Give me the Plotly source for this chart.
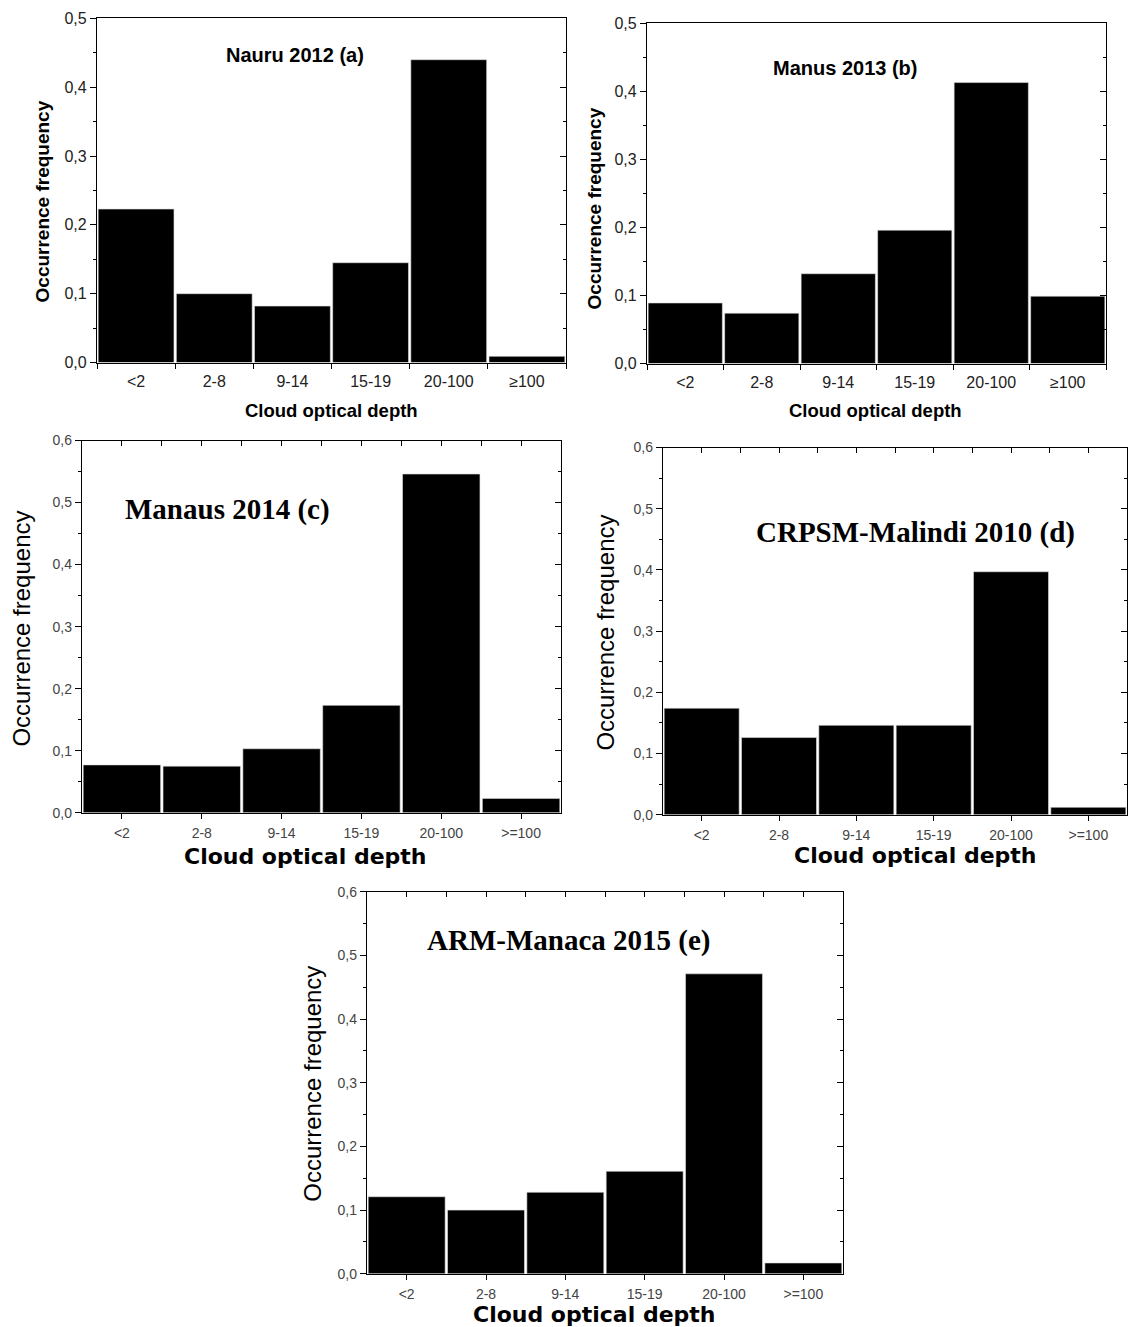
import plotly.graph_objects as go

# ---------------- data ----------------
categories_ab = ["<2", "2-8", "9-14", "15-19", "20-100", "≥100"]
categories_cde = ["<2", "2-8", "9-14", "15-19", "20-100", ">=100"]

nauru_2012 = [0.223, 0.100, 0.082, 0.145, 0.440, 0.009]
manus_2013 = [0.089, 0.074, 0.132, 0.196, 0.413, 0.099]
manaus_2014 = [0.077, 0.075, 0.103, 0.173, 0.546, 0.023]
malindi_2010 = [0.174, 0.126, 0.146, 0.146, 0.397, 0.012]
manaca_2015 = [0.121, 0.100, 0.128, 0.161, 0.471, 0.017]

titles = ["Nauru 2012 (a)", "Manus 2013 (b)", "Manaus 2014 (c)",
          "CRPSM-Malindi 2010 (d)", "ARM-Manaca 2015 (e)"]
y_title = "Occurrence frequency"
x_title = "Cloud optical depth"
y_max = [0.5, 0.5, 0.6, 0.6, 0.6]

# ---------------- layout geometry (pixels of the target picture) ----------------
W = 1128
H = 1340
Y_OFF, Y_SCALE = 7.6, 0.987   # observed vertical mapping of the captured page

panels = [
    dict(cats=categories_ab, vals=nauru_2012, box=(97, 566, 18, 362), style="a",
         title_xy=(295, 55), ytitle_xy=(42, 201), xtitle_xy=(331, 410)),
    dict(cats=categories_ab, vals=manus_2013, box=(647, 1106, 23, 363), style="a",
         title_xy=(845, 68), ytitle_xy=(594, 208), xtitle_xy=(875, 410)),
    dict(cats=categories_cde, vals=manaus_2014, box=(82, 561, 440, 812), style="c",
         title_xy=(227, 509), ytitle_xy=(22, 628), xtitle_xy=(305, 856)),
    dict(cats=categories_cde, vals=malindi_2010, box=(663, 1127, 447, 814), style="c",
         title_xy=(915, 532), ytitle_xy=(606, 632), xtitle_xy=(915, 855)),
    dict(cats=categories_cde, vals=manaca_2015, box=(367, 843, 891, 1273), style="c",
         title_xy=(568, 940), ytitle_xy=(313, 1083), xtitle_xy=(594, 1314)),
]

SANS = "Liberation Sans, Arial, sans-serif"
NARROW = "Liberation Sans Narrow, Arial Narrow, Liberation Sans, sans-serif"
WIDE = "DejaVu Sans, Verdana, sans-serif"
SERIF = "Liberation Serif, Times New Roman, serif"


def px_x(x):
    return x / W


def px_y(y):
    return 1 - ((y - Y_OFF) / Y_SCALE) / H


fig = go.Figure()
layout = {}
annotations = []

for i, p in enumerate(panels):
    n = i + 1
    ntop = n + 5
    x0, x1, y0, y1 = p["box"]
    xd = [px_x(x0), px_x(x1)]
    yd = [px_y(y1), px_y(y0)]
    ym = y_max[i]
    st = p["style"]

    if st == "a":
        tick_font = dict(family=SANS, size=16, color="#222")
    else:
        tick_font = dict(family=NARROW, size=14, color="#444")

    fig.add_trace(go.Bar(
        x=p["cats"], y=p["vals"], xaxis=f"x{n}", yaxis=f"y{n}",
        marker=dict(color="black", line=dict(color="#dddddd", width=0.6)),
        showlegend=False, hoverinfo="x+y",
    ))
    # dummy traces so overlay axes are drawn
    fig.add_trace(go.Scatter(x=[None], y=[None], xaxis=f"x{ntop}", yaxis=f"y{n}",
                             showlegend=False, hoverinfo="skip"))
    fig.add_trace(go.Scatter(x=[None], y=[None], xaxis=f"x{n}", yaxis=f"y{ntop}",
                             showlegend=False, hoverinfo="skip"))

    layout[f"xaxis{n}"] = dict(
        domain=xd, anchor=f"y{n}", type="category", categoryorder="array",
        categoryarray=p["cats"], range=[-0.5, 5.5],
        showline=True, linecolor="black", linewidth=1.3,
        ticks="outside", ticklen=5, tickwidth=1.2, tickcolor="black",
        tickson="boundaries" if st == "a" else "labels",
        ticklabelstandoff=4 if st == "a" else 2,
        tickfont=tick_font, showgrid=False, zeroline=False, fixedrange=True,
    )
    layout[f"yaxis{n}"] = dict(
        domain=yd, anchor=f"x{n}", range=[0, ym], dtick=0.1, tick0=0,
        tickformat=".1f", showline=True, linecolor="black", linewidth=1.3,
        ticks="outside", ticklen=6, tickwidth=1.2, tickcolor="black",
        minor=dict(ticks="outside", ticklen=3, dtick=0.05, tickcolor="black"),
        tickfont=tick_font, showgrid=False, zeroline=False, fixedrange=True,
    )
    top = dict(
        domain=xd, anchor=f"y{n}", overlaying=f"x{n}", side="top",
        range=[-0.5, 5.5], showline=True, linecolor="black", linewidth=1.3,
        showticklabels=False, showgrid=False, zeroline=False, fixedrange=True,
    )
    if st == "a":
        top.update(ticks="")
    else:
        top.update(ticks="inside", tickmode="linear", tick0=-0.5, dtick=0.5,
                   ticklen=5, tickwidth=1.2, tickcolor="black")
    layout[f"xaxis{ntop}"] = top
    layout[f"yaxis{ntop}"] = dict(
        domain=yd, anchor=f"x{n}", overlaying=f"y{n}", side="right",
        range=[0, ym], dtick=0.1, tick0=0, showline=True, linecolor="black",
        linewidth=1.3, ticks="inside", ticklen=6, tickwidth=1.2, tickcolor="black",
        minor=dict(ticks="inside", ticklen=3, dtick=0.05, tickcolor="black"),
        showticklabels=False, showgrid=False, zeroline=False, fixedrange=True,
    )

    # text
    tx, ty = p["title_xy"]
    yx, yy = p["ytitle_xy"]
    xx, xy = p["xtitle_xy"]
    if st == "a":
        tfont = dict(family=SANS, size=20, color="black")
        ytfont = dict(family=SANS, size=19, color="black")
        xtfont = dict(family=SANS, size=18.5, color="black")
        tt = f"<b>{titles[i]}</b>"
        yt = f"<b>{y_title}</b>"
        xt = f"<b>{x_title}</b>"
    else:
        tfont = dict(family=SERIF, size=29, color="black")
        ytfont = dict(family=NARROW, size=24, color="black")
        xtfont = dict(family=WIDE, size=22, color="black")
        tt = f"<b>{titles[i]}</b>"
        yt = y_title
        xt = f"<b>{x_title}</b>"
    annotations.append(dict(text=tt, x=px_x(tx), y=px_y(ty), xref="paper", yref="paper",
                            showarrow=False, xanchor="center", yanchor="middle", font=tfont))
    annotations.append(dict(text=yt, x=px_x(yx), y=px_y(yy), xref="paper", yref="paper",
                            showarrow=False, xanchor="center", yanchor="middle",
                            textangle=-90, font=ytfont))
    annotations.append(dict(text=xt, x=px_x(xx), y=px_y(xy), xref="paper", yref="paper",
                            showarrow=False, xanchor="center", yanchor="middle", font=xtfont))

fig.update_layout(
    width=W, height=H, margin=dict(l=0, r=0, t=0, b=0),
    paper_bgcolor="white", plot_bgcolor="white",
    bargap=0.03, separators=",.", showlegend=False,
    annotations=annotations, **layout,
)

fig.write_html(
    "out.html",
    config={"displayModeBar": False},
    post_script="document.body.style.margin='0px';"
                "document.documentElement.style.overflow='hidden';",
)
